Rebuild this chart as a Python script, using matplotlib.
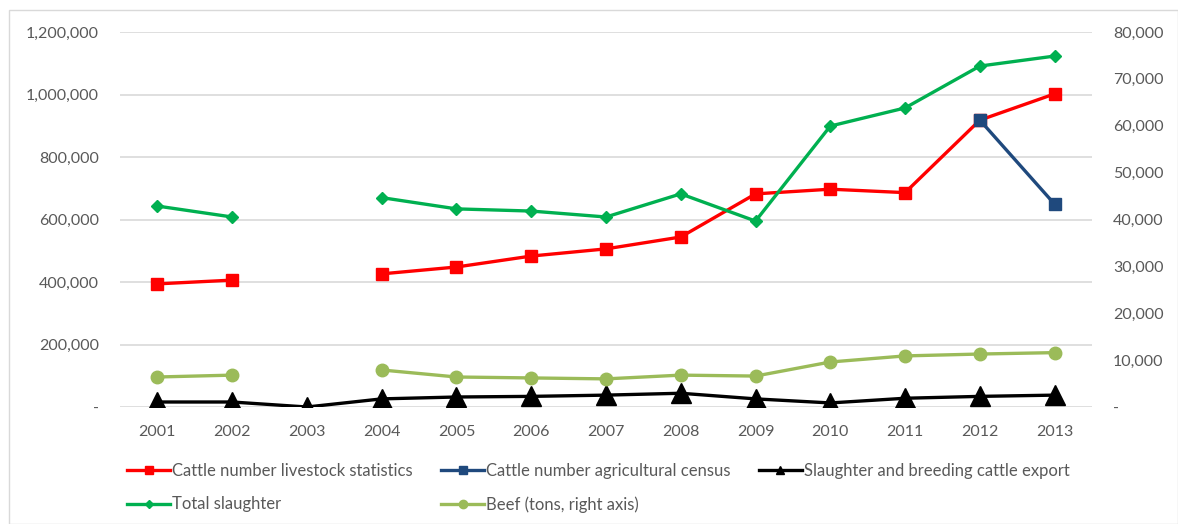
import numpy as np
import matplotlib
matplotlib.use('Agg')
import matplotlib.pyplot as plt
from matplotlib.ticker import FuncFormatter, MultipleLocator
from matplotlib.patches import Rectangle

plt.rcParams['font.family'] = ['Lato', 'DejaVu Sans']

YEARS = ['2001', '2002', '2003', '2004', '2005', '2006', '2007',
         '2008', '2009', '2010', '2011', '2012', '2013']
nan = np.nan
# left axis (head)
LIVESTOCK = [394000, 406000, nan, 426000, 448000, 483000, 506000,
             544000, 682000, 697000, 686000, 918000, 1002000]
CENSUS = [nan, nan, nan, nan, nan, nan, nan,
          nan, nan, nan, nan, 918000, 649000]
EXPORT = [16000, 16000, 0, 26000, 32000, 34000, 38000,
          44000, 26000, 13000, 28000, 34000, 38000]
SLAUGHTER = [643000, 608000, nan, 670000, 634000, 627000, 608000,
             682000, 595000, 899000, 957000, 1091000, 1123000]
# right axis (tons)
BEEF = [6400, 6800, nan, 7900, 6400, 6200, 6000,
        6800, 6600, 9600, 10900, 11300, 11600]

GRAY = '#595959'
LW = 2.4

fig = plt.figure(figsize=(11.78, 5.24), dpi=100)
fig.patches.append(Rectangle((9/1178, 0), 1 - 9/1178, 1 - 10/524,
                             transform=fig.transFigure, fill=False,
                             edgecolor='#D9D9D9', linewidth=1))
ax = fig.add_axes([120/1178, 117/524, 972/1178, 375/524])
ax2 = ax.twinx()

x = np.arange(len(YEARS))
l1, = ax.plot(x, LIVESTOCK, color='#FF0000', lw=LW, marker='s', ms=9,
              label='Cattle number livestock statistics')
l2, = ax.plot(x, CENSUS, color='#1F497D', lw=LW, marker='s', ms=9,
              label='Cattle number agricultural census')
l3, = ax.plot(x, EXPORT, color='#000000', lw=LW, marker='^', ms=15,
              label='Slaughter and breeding cattle export')
l4, = ax.plot(x, SLAUGHTER, color='#00B050', lw=LW, marker='D', ms=6,
              label='Total slaughter')
l5, = ax2.plot(x, BEEF, color='#9BBB59', lw=LW, marker='o', ms=9,
               label='Beef (tons, right axis)')

ax.set_xlim(-0.5, len(YEARS) - 0.5)
ax.set_ylim(0, 1200000)
ax2.set_ylim(0, 80000)
ax.yaxis.set_major_locator(MultipleLocator(200000))
ax2.yaxis.set_major_locator(MultipleLocator(10000))

def fmt(v, pos):
    return '-' if v == 0 else '{:,.0f}'.format(v)

ax.yaxis.set_major_formatter(FuncFormatter(fmt))
ax2.yaxis.set_major_formatter(FuncFormatter(fmt))
ax.set_xticks(x)
ax.set_xticklabels(YEARS)

for a in (ax, ax2):
    for s in a.spines.values():
        s.set_visible(False)
    a.tick_params(length=0, labelsize=11.5, colors=GRAY)
ax.tick_params(axis='y', pad=15)
ax2.tick_params(axis='y', pad=15)
ax.tick_params(axis='x', pad=13)
ax.grid(axis='y', color='#D9D9D9', lw=1.2)
ax.set_axisbelow(True)

handles = [l1, l4, l2, l5, l3]
leg = fig.legend(handles, [h.get_label() for h in handles], loc='upper left',
                 bbox_to_anchor=(127/1178, 1 - 463/524), ncol=3, frameon=False,
                 fontsize=12, labelcolor=GRAY, handlelength=2.6,
                 handletextpad=0.1, columnspacing=1.7, labelspacing=1.05,
                 borderpad=0, borderaxespad=0)
for h, ms in zip(leg.legend_handles, [6, 4, 6, 6, 6]):
    h.set_markersize(ms)

fig.savefig('out.png', dpi=100)
